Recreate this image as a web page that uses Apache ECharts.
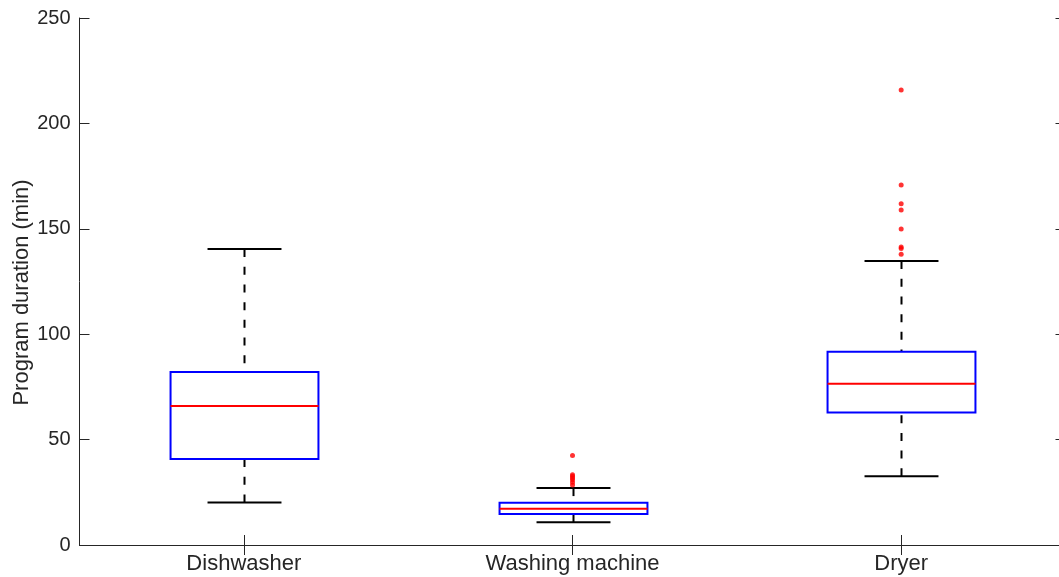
<!DOCTYPE html>
<html><head><meta charset="utf-8">
<script src="https://cdn.jsdelivr.net/npm/echarts@6/dist/echarts.min.js"></script>
<style>html,body{margin:0;padding:0;overflow:hidden;background:#fff}#c{width:1080px;height:577px}</style>
</head><body><div id="c"></div>
<script>
const categories = ['Dishwasher', 'Washing machine', 'Dryer'];
const whiskerLow = [20.2, 10.8, 32.6];
const q1 = [40.8, 14.7, 62.8];
const median = [65.9, 17.2, 76.5];
const q3 = [82.1, 20.1, 91.7];
const whiskerHigh = [140.4, 27.0, 134.7];
const outliersWashing = [42.5, 33.3, 32.6, 31.8, 30.9, 29.8, 28.5];
const outliersDryer = [215.8, 170.8, 161.9, 158.9, 149.9, 141.4, 140.7, 137.9];
const yMin = 0, yMax = 250, yStep = 50;
const yName = 'Program duration (min)';

const txt = '#262626';
const font = 'Liberation Sans';

function renderItem(params, api) {
  const i = api.value(0);
  const band = api.size([1, 0])[0];
  const bw = band * 0.45, cw = bw / 2;
  const pLo = api.coord([i, api.value(1)]);
  const pQ1 = api.coord([i, api.value(2)]);
  const pMed = api.coord([i, api.value(3)]);
  const pQ3 = api.coord([i, api.value(4)]);
  const pHi = api.coord([i, api.value(5)]);
  const x = Math.round(pLo[0]) + 0.5;
  const dash = { stroke: '#000', lineWidth: 2, lineDash: [8, 9.7] };
  const solid = { stroke: '#000', lineWidth: 2 };
  return {
    type: 'group',
    children: [
      { type: 'line', shape: { x1: x, y1: pHi[1], x2: x, y2: pQ3[1] }, style: dash },
      { type: 'line', shape: { x1: x, y1: pLo[1], x2: x, y2: pQ1[1] }, style: dash },
      { type: 'line', shape: { x1: x - cw / 2, y1: pHi[1], x2: x + cw / 2, y2: pHi[1] }, style: solid },
      { type: 'line', shape: { x1: x - cw / 2, y1: pLo[1], x2: x + cw / 2, y2: pLo[1] }, style: solid },
      { type: 'rect', shape: { x: x - bw / 2, y: pQ3[1], width: bw, height: pQ1[1] - pQ3[1] },
        style: { fill: 'none', stroke: '#0000ff', lineWidth: 2 } },
      { type: 'line', shape: { x1: x - bw / 2, y1: pMed[1], x2: x + bw / 2, y2: pMed[1] },
        style: { stroke: '#ff0000', lineWidth: 2 } }
    ]
  };
}

const boxData = categories.map((c, i) => [i, whiskerLow[i], q1[i], median[i], q3[i], whiskerHigh[i]]);
const outData = outliersWashing.map(v => [categories[1], v]).concat(outliersDryer.map(v => [categories[2], v]));

const axisLine = { show: true, lineStyle: { color: txt, width: 1 } };
const tick = { show: true, inside: true, length: 10, lineStyle: { color: txt, width: 1 } };

const chart = echarts.init(document.getElementById('c'), null, { renderer: 'canvas' });
chart.setOption({
  animation: false,
  backgroundColor: '#fff',
  grid: { left: 79.5, right: 14.5, top: 18, bottom: 32, containLabel: false, outerBoundsMode: 'none' },
  xAxis: [
    { type: 'category', data: categories, position: 'bottom', boundaryGap: true,
      axisLine, axisTick: Object.assign({ alignWithLabel: true }, tick),
      axisLabel: { color: txt, fontFamily: font, fontSize: 22, margin: 8 },
      splitLine: { show: false } },
    { type: 'category', data: categories, position: 'top', boundaryGap: true,
      axisLine, axisTick: Object.assign({ alignWithLabel: true }, tick),
      axisLabel: { show: false }, splitLine: { show: false } }
  ],
  yAxis: [
    { type: 'value', min: yMin, max: yMax, interval: yStep, position: 'left',
      axisLine, axisTick: tick,
      axisLabel: { color: txt, fontFamily: font, fontSize: 20, margin: 9 },
      splitLine: { show: false },
      name: yName, nameLocation: 'middle', nameGap: 47, nameMoveOverlap: false,
      nameTextStyle: { color: txt, fontFamily: font, fontSize: 22, padding: [0, 22, 0, 0] } },
    { type: 'value', min: yMin, max: yMax, interval: yStep, position: 'right',
      axisLine, axisTick: tick, axisLabel: { show: false }, splitLine: { show: false } }
  ],
  series: [
    { type: 'custom', renderItem, data: boxData, encode: { x: 0, y: [1, 2, 3, 4, 5] }, z: 2 },
    { type: 'scatter', data: outData, symbol: 'circle', symbolSize: 5,
      itemStyle: { color: '#ff0000' }, z: 3 }
  ]
});
</script></body></html>
